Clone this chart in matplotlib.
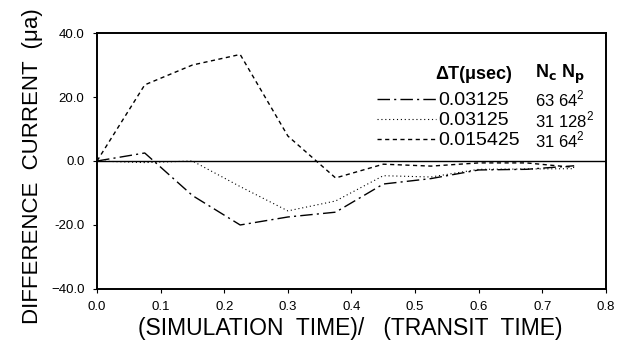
import numpy as np
import matplotlib.pyplot as plt

plt.rcParams['font.family'] = ['Liberation Sans', 'DejaVu Sans']

# simulation time / transit time
t = [0.0, 0.075, 0.15, 0.225, 0.3, 0.375, 0.45, 0.525, 0.6, 0.675, 0.75]

# difference current (micro-amps) for each run
run_63_64 = [0.0, 2.5, -10.8, -20.0, -17.5, -16.0, -7.2, -5.5, -2.8, -2.6, -1.5]
run_31_128 = [0.0, -0.5, 0.0, -8.0, -15.6, -12.5, -4.6, -5.0, -2.6, -2.5, -2.4]
run_31_64 = [0.0, 23.8, 30.0, 33.3, 7.8, -5.3, -1.0, -1.6, -0.6, -0.6, -2.0]

dt_labels = ['0.03125', '0.03125', '0.015425']
grid_labels = ['63 64$^\\mathregular{2}$', '31 128$^\\mathregular{2}$', '31 64$^\\mathregular{2}$']

fig = plt.figure(figsize=(6.26, 3.44), dpi=100)
ax = fig.add_axes([0.155, 0.160, 0.813, 0.744])

l1, = ax.plot(t, run_63_64, color='black', lw=1.0, dashes=(9, 3, 1.5, 3))
l2, = ax.plot(t, run_31_128, color='black', lw=0.8, dashes=(1, 2.5))
l3, = ax.plot(t, run_31_64, color='black', lw=1.0, dashes=(3, 2.5))
ax.axhline(0, color='black', lw=1.0)

ax.set_xlim(0, 0.8)
ax.set_ylim(-40, 40)
ax.set_xticks(np.arange(0, 0.81, 0.1))
ax.set_xticklabels(['0.0', '0.1', '0.2', '0.3', '0.4', '0.5', '0.6', '0.7', '0.8'])
ax.set_yticks([-40, -20, 0, 20, 40])
ax.set_yticklabels(['−40.0', '-20.0', '0.0', '20.0', '40.0'])
ax.tick_params(direction='out', length=3, width=0.8, labelsize=9.5, pad=6)
for s in ax.spines.values():
    s.set_linewidth(1.4)

ax.set_ylabel('DIFFERENCE  CURRENT  (μa)', fontsize=16)
ax.yaxis.set_label_coords(-0.106, 0.48)
ax.set_xlabel('(SIMULATION  TIME)/   (TRANSIT  TIME)', fontsize=16.5)
ax.xaxis.set_label_coords(0.497, -0.11)

leg = ax.legend([l1, l2, l3], dt_labels, loc='upper left',
                bbox_to_anchor=(0.603, 0.733), bbox_transform=fig.transFigure,
                frameon=False, fontsize=14, handlelength=3.0, handletextpad=0.1,
                labelspacing=0.12, borderpad=0, borderaxespad=0)

fig.text(0.695, 0.783, 'ΔT(μsec)', fontsize=13, fontweight='bold', va='center')
fig.text(0.855, 0.783, 'N$_\\mathbf{c}$ N$_\\mathbf{p}$', fontsize=13, fontweight='bold', va='center')
for i, g in enumerate(grid_labels):
    fig.text(0.855, 0.712 - i * 0.06, g, fontsize=12, va='center')

fig.savefig('out.png', dpi=100)
